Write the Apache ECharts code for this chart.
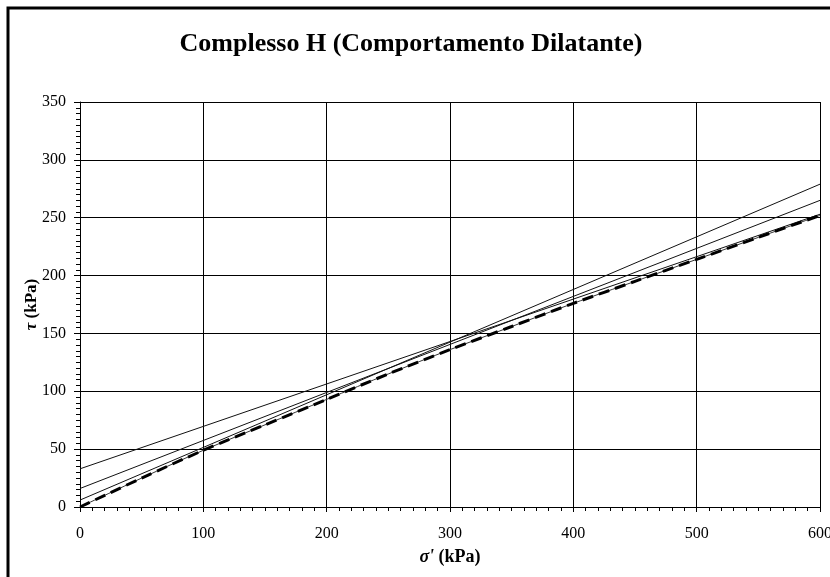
<!DOCTYPE html>
<html>
<head>
<meta charset="utf-8">
<script src="https://cdn.jsdelivr.net/npm/echarts@6/dist/echarts.min.js"></script>
<style>
  html, body { margin: 0; padding: 0; background: #fff; overflow: hidden; }
  #chart { width: 830px; height: 577px; }
</style>
</head>
<body>
<div id="chart"></div>
<script>
// Curved peak-strength envelope (sigma', tau) in kPa
const envelopeSigma = [0, 50, 100, 150, 200, 250, 300, 350, 400, 450, 500, 550, 600];
const envelopeTau   = [0, 25, 49, 71, 93, 115, 136, 156, 176, 195, 214, 233, 252];

// Linear (c', phi') envelopes: end points at sigma' = 0 and 600 kPa
const linearSigma = [0, 600];
const linearHigh  = [33, 253];
const linearMid   = [16, 265];
const linearLow   = [6, 279];

const xTicks = [0, 100, 200, 300, 400, 500, 600];
const yTicks = [0, 50, 100, 150, 200, 250, 300, 350];

const pairs = (xs, ys) => xs.map((x, i) => [x, ys[i]]);
const serif = '"Liberation Serif", "Times New Roman", serif';

const thinLine = (name, data) => ({
  name, type: 'line', data, symbol: 'none', silent: true,
  lineStyle: { color: '#111', width: 1 }, z: 3
});

const chart = echarts.init(document.getElementById('chart'), null, { renderer: 'canvas' });
chart.setOption({
  backgroundColor: '#fff',
  animation: false,
  title: {
    text: 'Complesso H (Comportamento Dilatante)',
    left: 406, top: 26, textAlign: 'center',
    textStyle: { fontFamily: serif, fontWeight: 'bold', fontSize: 26, color: '#000' }
  },
  graphic: [{
    type: 'rect', shape: { x: 8, y: 8, width: 1000, height: 1000 },
    style: { fill: 'none', stroke: '#000', lineWidth: 3 }, silent: true
  }],
  grid: { left: 80, right: 10, top: 102, bottom: 70, containLabel: false, outerBoundsMode: 'none' },
  xAxis: {
    type: 'value', min: xTicks[0], max: xTicks[xTicks.length - 1], interval: 100,
    name: '{s|σ\'} (kPa)', nameLocation: 'middle', nameGap: 41, nameMoveOverlap: false,
    nameTextStyle: {
      fontFamily: serif, fontWeight: 'bold', fontSize: 18, color: '#000',
      rich: { s: { fontFamily: serif, fontWeight: 'bold', fontStyle: 'italic', fontSize: 18, color: '#000' } }
    },
    axisLine: { show: true, onZero: false, lineStyle: { color: '#000', width: 1 } },
    axisTick: { show: true, inside: false, length: 5, lineStyle: { color: '#000' } },
    minorTick: { show: true, splitNumber: 10, length: 4, lineStyle: { color: '#000' } },
    splitLine: { show: true, lineStyle: { color: '#000', width: 1 } },
    axisLabel: { fontFamily: serif, fontSize: 16, color: '#000', margin: 19 }
  },
  yAxis: {
    type: 'value', min: yTicks[0], max: yTicks[yTicks.length - 1], interval: 50,
    name: '{t|τ} (kPa)', nameLocation: 'middle', nameRotate: 90, nameGap: 40, nameMoveOverlap: false,
    nameTextStyle: {
      fontFamily: serif, fontWeight: 'bold', fontSize: 17, color: '#000',
      rich: { t: { fontFamily: serif, fontWeight: 'bold', fontStyle: 'italic', fontSize: 17, color: '#000' } }
    },
    axisLine: { show: true, lineStyle: { color: '#000', width: 1 } },
    axisTick: { show: true, inside: false, length: 6, lineStyle: { color: '#000' } },
    minorTick: { show: true, splitNumber: 10, length: 4, lineStyle: { color: '#000' } },
    splitLine: { show: true, lineStyle: { color: '#000', width: 1 } },
    axisLabel: { fontFamily: serif, fontSize: 16, color: '#000', margin: 14 }
  },
  series: [
    thinLine('c33', pairs(linearSigma, linearHigh)),
    thinLine('c16', pairs(linearSigma, linearMid)),
    thinLine('c6', pairs(linearSigma, linearLow)),
    {
      name: 'envelope-base', type: 'line', data: pairs(envelopeSigma, envelopeTau),
      symbol: 'none', smooth: 0.3, silent: true,
      lineStyle: { color: '#333', width: 1 }, z: 4
    },
    {
      name: 'envelope', type: 'line', data: pairs(envelopeSigma, envelopeTau),
      symbol: 'none', smooth: 0.3, silent: true,
      lineStyle: { color: '#000', width: 3, type: [11, 6] }, z: 5
    }
  ]
});
</script>
</body>
</html>
